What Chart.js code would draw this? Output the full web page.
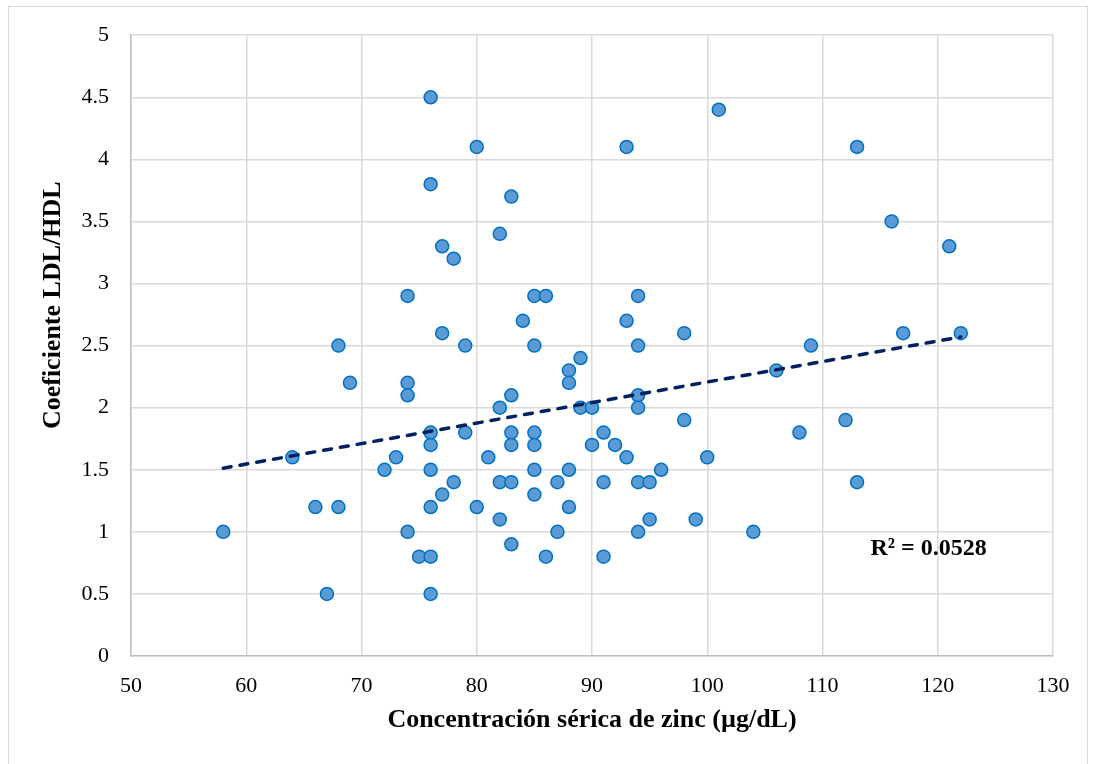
<!DOCTYPE html>
<html>
<head>
<meta charset="utf-8">
<script src="https://cdn.jsdelivr.net/npm/chart.js@4.4.1/dist/chart.umd.min.js"></script>
<style>
    html, body { margin: 0; padding: 0; background: #ffffff; overflow: hidden; }
    #frame {
        position: absolute; left: 8px; top: 6px; width: 1080px; height: 800px;
        border: 1.5px solid #d9d9d9; box-sizing: border-box;
    }
    #wrap { position: absolute; left: 0; top: 0; width: 1098px; height: 764px; }
</style>
</head>
<body>
<div id="frame"></div>
<div id="wrap"><canvas id="zincChart"></canvas></div>
<script>
// Scatter data: serum zinc (x) vs LDL/HDL ratio (y)
const zincX = [58, 64, 66, 67, 68, 68, 69, 72, 73,
    74, 74, 74, 74, 75,
    76, 76, 76, 76, 76, 76, 76, 76,
    77, 77, 77, 78, 78, 79, 79, 80, 80, 81,
    82, 82, 82, 82, 83, 83, 83, 83, 83, 83, 84,
    85, 85, 85, 85, 85, 85, 86, 86, 87, 87,
    88, 88, 88, 88, 89, 89, 90, 90, 91, 91, 91, 92,
    93, 93, 93, 94, 94, 94, 94, 94, 94, 95, 95, 96,
    98, 98, 99, 100, 101, 104, 106, 108, 109, 112,
    113, 113, 116, 117, 121, 122];
const ratioY = [1.0, 1.6, 1.2, 0.5, 2.5, 1.2, 2.2, 1.5, 1.6,
    2.9, 2.2, 2.1, 1.0, 0.8,
    4.5, 3.8, 1.8, 1.7, 1.5, 1.2, 0.8, 0.5,
    3.3, 2.6, 1.3, 3.2, 1.4, 2.5, 1.8, 4.1, 1.2, 1.6,
    3.4, 2.0, 1.4, 1.1, 3.7, 2.1, 1.8, 1.7, 1.4, 0.9, 2.7,
    2.9, 2.5, 1.8, 1.7, 1.5, 1.3, 2.9, 0.8, 1.4, 1.0,
    2.3, 2.2, 1.5, 1.2, 2.4, 2.0, 2.0, 1.7, 1.8, 1.4, 0.8, 1.7,
    4.1, 2.7, 1.6, 2.9, 2.5, 2.1, 2.0, 1.4, 1.0, 1.4, 1.1, 1.5,
    2.6, 1.9, 1.1, 1.6, 4.4, 1.0, 2.3, 1.8, 2.5, 1.9,
    4.1, 1.4, 3.5, 2.6, 3.3, 2.6];

const xRange = [50, 130];
const yRange = [0, 5];
const xTitle = 'Concentración sérica de zinc (µg/dL)';
const yTitle = 'Coeficiente LDL/HDL';
const r2Label = 'R² = 0.0528';
const r2Pos = [119.2, 0.86];

const serif = '"Liberation Serif", "Times New Roman", serif';

// Least squares fit (Excel linear trendline)
function linearFit(xs, ys) {
    const n = xs.length;
    const mx = xs.reduce((a, b) => a + b, 0) / n;
    const my = ys.reduce((a, b) => a + b, 0) / n;
    let sxy = 0, sxx = 0;
    for (let i = 0; i < n; i++) {
        sxy += (xs[i] - mx) * (ys[i] - my);
        sxx += (xs[i] - mx) * (xs[i] - mx);
    }
    const slope = sxy / sxx;
    return { slope: slope, intercept: my - slope * mx };
}

const fit = linearFit(zincX, ratioY);
const xMin = Math.min(...zincX);
const xMax = Math.max(...zincX);
const trendPoints = [xMin, xMax].map(x => ({ x: x, y: fit.intercept + fit.slope * x }));
const scatterPoints = zincX.map((x, i) => ({ x: x, y: ratioY[i] }));

// R² annotation and the y title (Excel puts it a bit above the plot centre)
const labelPlugin = {
    id: 'labelPlugin',
    afterDatasetsDraw(chart) {
        const { ctx, scales, chartArea } = chart;
        ctx.save();
        ctx.fillStyle = '#000000';
        ctx.textAlign = 'center';
        ctx.textBaseline = 'middle';
        ctx.font = 'bold 24px ' + serif;
        ctx.fillText(r2Label, scales.x.getPixelForValue(r2Pos[0]), scales.y.getPixelForValue(r2Pos[1]));

        ctx.font = 'bold 26px ' + serif;
        ctx.translate(53, chartArea.top + (chartArea.bottom - chartArea.top) * 0.435);
        ctx.rotate(-Math.PI / 2);
        ctx.fillText(yTitle, 0, 0);
        ctx.restore();
    }
};

const ctx = document.getElementById('zincChart').getContext('2d');
new Chart(ctx, {
    type: 'scatter',
    data: {
        datasets: [
            {
                type: 'line',
                label: 'Tendencia',
                data: trendPoints,
                borderColor: '#002060',
                borderWidth: 3.5,
                borderDash: [8, 9],
                borderCapStyle: 'round',
                pointRadius: 0,
                fill: false,
                order: 0
            },
            {
                label: 'Pacientes',
                data: scatterPoints,
                backgroundColor: '#5b9bd5',
                borderColor: '#0070c0',
                borderWidth: 1.5,
                pointRadius: 6.5,
                order: 1
            }
        ]
    },
    options: {
        responsive: true,
        maintainAspectRatio: false,
        animation: false,
        layout: { padding: { top: 35, right: 45, bottom: 0, left: 0 } },
        plugins: {
            legend: { display: false },
            tooltip: { enabled: false }
        },
        scales: {
            x: {
                type: 'linear',
                min: xRange[0],
                max: xRange[1],
                ticks: {
                    stepSize: 10,
                    padding: 17,
                    color: '#000000',
                    font: { family: serif, size: 22 }
                },
                grid: { color: '#d9d9d9', lineWidth: 1.5, drawTicks: false },
                border: { color: '#bfbfbf', width: 1.5 },
                title: {
                    display: true,
                    text: xTitle,
                    color: '#000000',
                    font: { family: serif, size: 26, weight: 'bold' },
                    padding: { top: 0, bottom: 28 }
                },
                afterFit(scale) { scale.height = 108; }
            },
            y: {
                type: 'linear',
                min: yRange[0],
                max: yRange[1],
                ticks: {
                    stepSize: 0.5,
                    padding: 22,
                    color: '#000000',
                    font: { family: serif, size: 22 },
                    callback: v => String(v)
                },
                grid: { color: '#d9d9d9', lineWidth: 1.5, drawTicks: false },
                border: { color: '#bfbfbf', width: 1.5 },
                afterFit(scale) { scale.width = 131; }
            }
        }
    },
    plugins: [labelPlugin]
});
</script>
</body>
</html>
